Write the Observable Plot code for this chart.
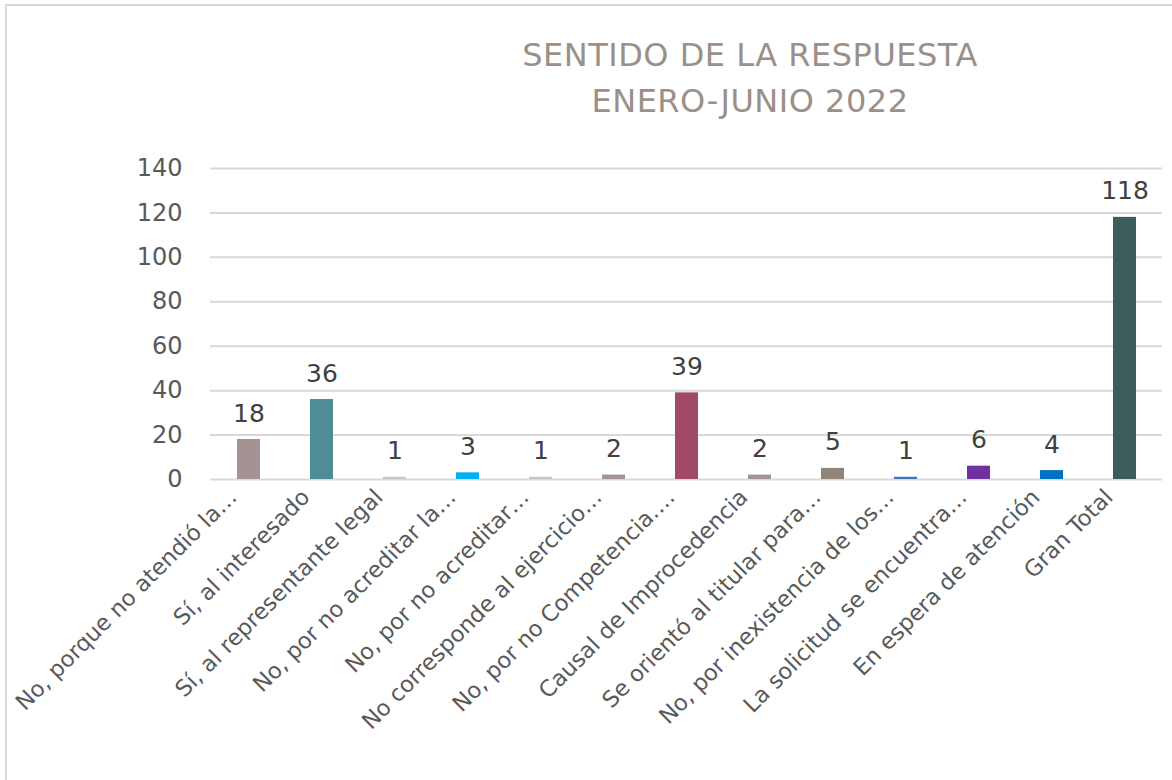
<!DOCTYPE html>
<html>
<head>
<meta charset="utf-8">
<script src="https://cdn.jsdelivr.net/npm/d3@7"></script>
<script src="https://cdn.jsdelivr.net/npm/@observablehq/plot@0.6"></script>
<style>
  html, body { margin: 0; padding: 0; background: #fff; }
  #frame { position: relative; width: 1172px; height: 780px; overflow: hidden; }
  #border { position: absolute; left: 5px; top: 4px; width: 1200px; height: 800px;
            border-left: 2px solid #d9d9d9; border-top: 2px solid #d9d9d9; box-sizing: border-box; }
  #title { position: absolute; left: 0; top: 0; width: 1172px; height: 140px;
           font-family: "DejaVu Sans", sans-serif; color: #9b9087; font-size: 32px; }
  #title div { position: absolute; width: 600px; left: 450px; text-align: center; letter-spacing: 0.5px; }
  #chart { position: absolute; left: 0; top: 140px; }
</style>
</head>
<body>
<div id="frame">
  <div id="border"></div>
  <div id="title">
    <div style="top:36px">SENTIDO DE LA RESPUESTA</div>
    <div style="top:82px">ENERO-JUNIO 2022</div>
  </div>
  <div id="chart"></div>
</div>
<script>
const categories = [
  "No, porque no atendió la…",
  "Sí, al interesado",
  "Sí, al representante legal",
  "No, por no acreditar la…",
  "No, por no acreditar…",
  "No corresponde al ejercicio…",
  "No, por no Competencia.…",
  "Causal de Improcedencia",
  "Se orientó al titular para…",
  "No, por inexistencia de los…",
  "La solicitud se encuentra…",
  "En espera de atención",
  "Gran Total"
];
const values = [18, 36, 1, 3, 1, 2, 39, 2, 5, 1, 6, 4, 118];
const barColors = ["#a59393", "#4e8d95", "#c9c6c6", "#00b0f0", "#c9c6c6", "#a59393", "#a04a66",
                   "#a59393", "#918579", "#4472c4", "#7030a0", "#0070c0", "#3d5c5a"];
const yTicks = [0, 20, 40, 60, 80, 100, 120, 140];

const data = categories.map((c, i) => ({category: c, value: values[i]}));

const plot = Plot.plot({
  width: 1172,
  height: 640,
  marginLeft: 210,
  marginRight: 10,
  marginTop: 28,
  marginBottom: 301,
  style: {fontFamily: "DejaVu Sans, sans-serif", background: "transparent"},
  x: {domain: categories, paddingInner: 0.69, paddingOuter: 0.345, label: null},
  y: {domain: [0, 140], label: null},
  color: {domain: categories, range: barColors},
  marks: [
    Plot.gridY(yTicks, {stroke: "#d9d9d9", strokeOpacity: 1, strokeWidth: 2}),
    Plot.barY(data, {x: "category", y: "value", fill: "category"}),
    Plot.text(data, {x: "category", y: "value", text: d => String(d.value), dy: -26,
                     fontSize: 25, fill: "#404040"}),
    Plot.axisY(yTicks, {tickSize: 0, tickPadding: 28, fontSize: 24, fill: "#595959"}),
    Plot.axisX({tickSize: 0, tickRotate: -45, tickPadding: 14, dx: -16, fontSize: 22.5, fill: "#595959"})
  ]
});
document.getElementById("chart").appendChild(plot);
</script>
</body>
</html>
